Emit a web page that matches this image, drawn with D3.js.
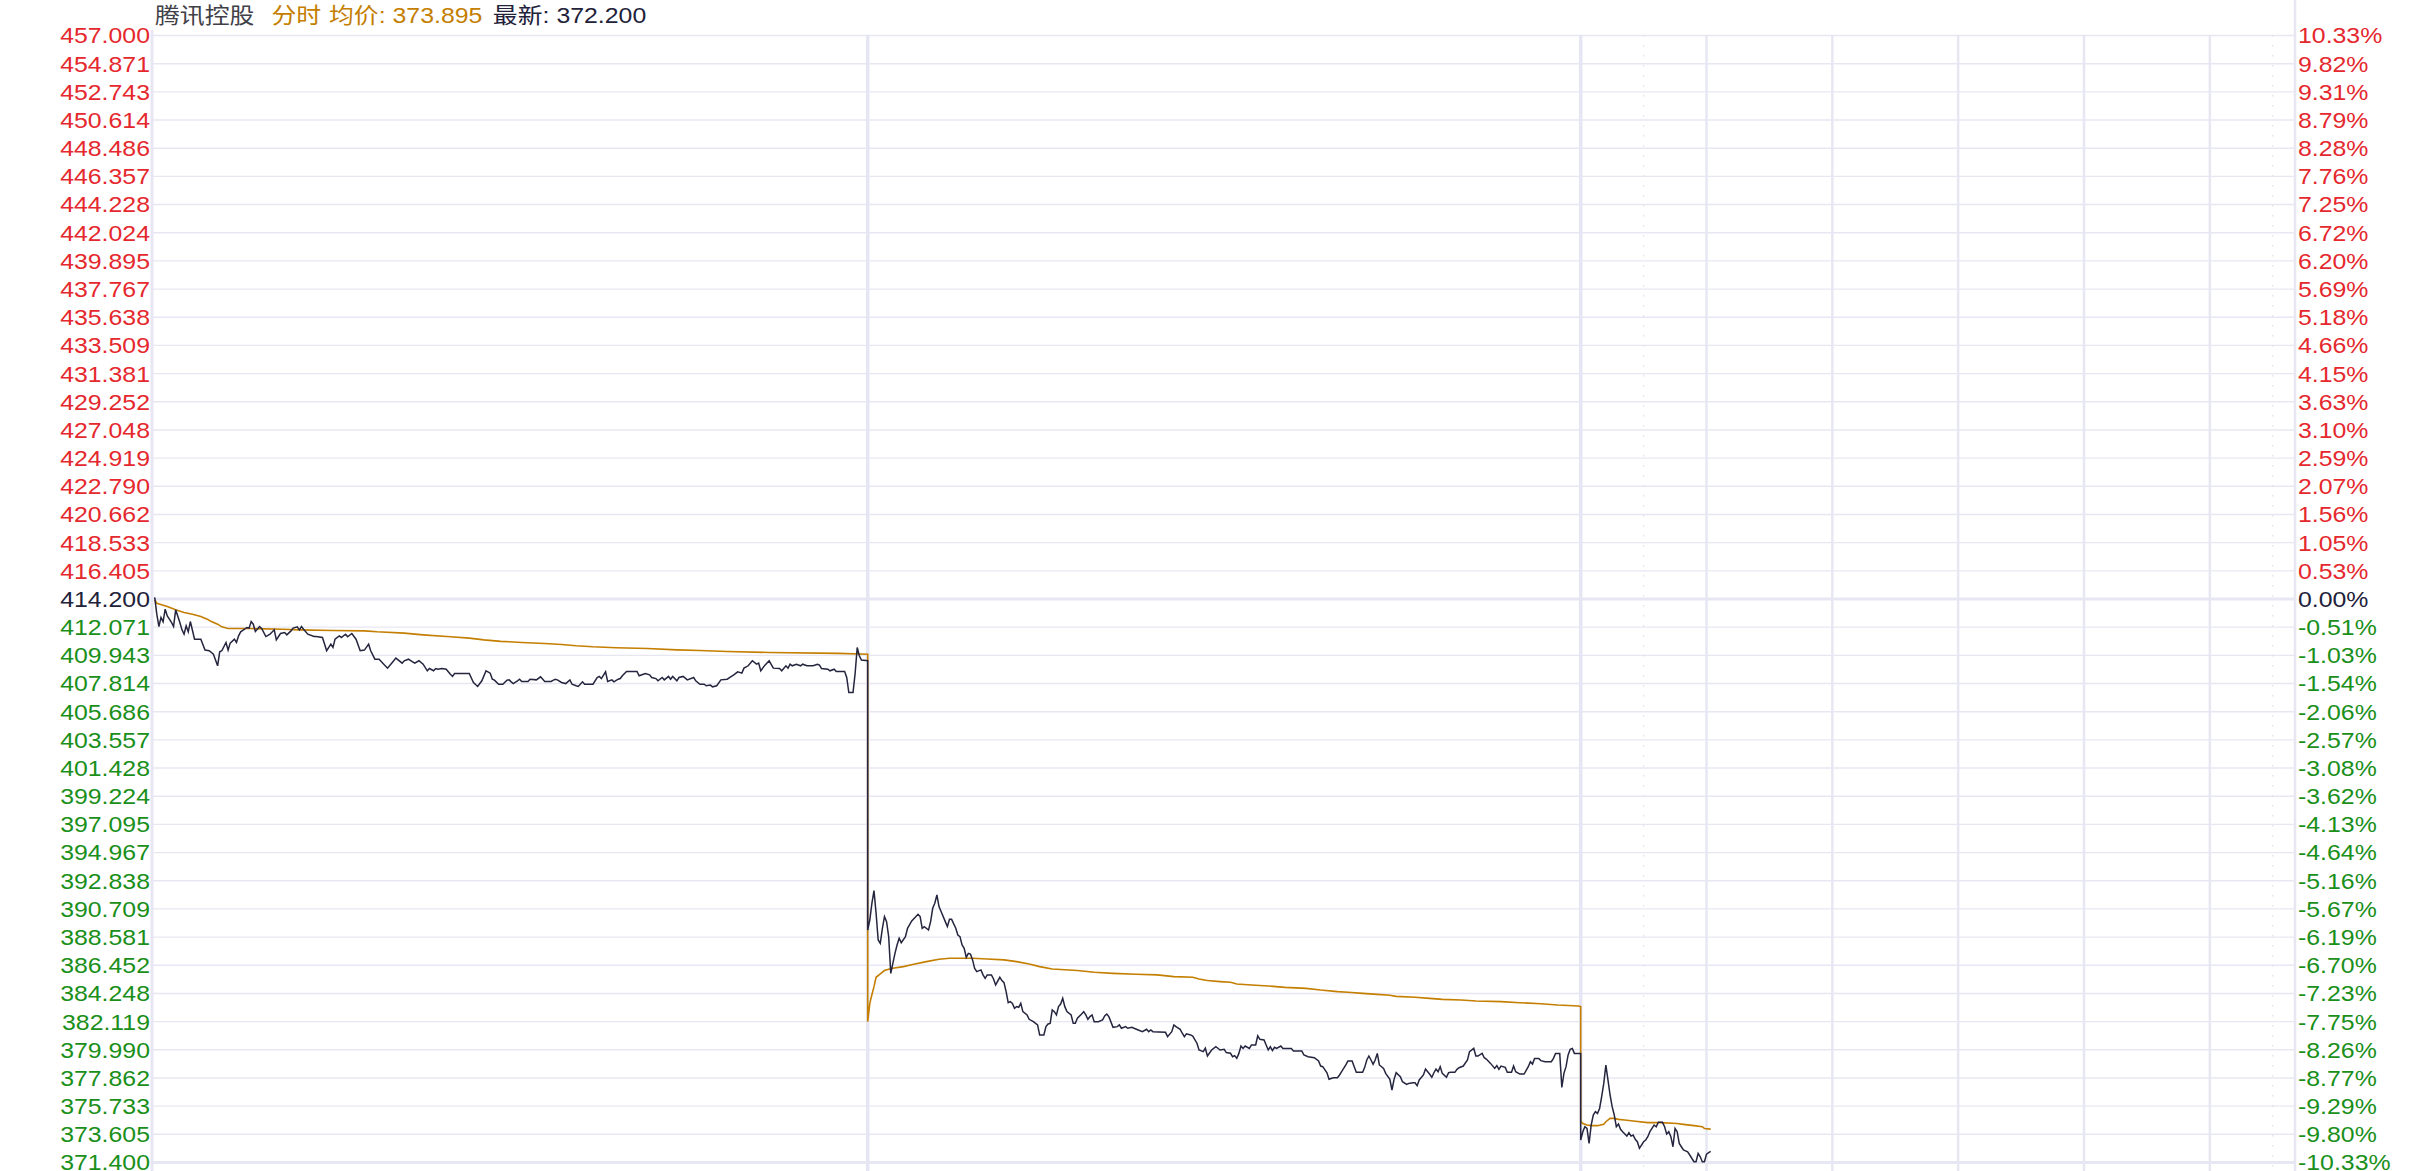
<!DOCTYPE html>
<html lang="zh">
<head>
<meta charset="utf-8">
<title>腾讯控股 分时</title>
<script src="https://d3js.org/d3.v7.min.js"></script>
<style>
  body { margin: 0; background: #fff; }
  svg text { font-family: "Liberation Sans", Arial, "Noto Sans CJK SC", sans-serif; white-space: pre; }
</style>
</head>
<body>
<svg id="chart" width="2425" height="1171"></svg>
<script>
// tick labels, top to bottom
const priceLabels = ["457.000","454.871","452.743","450.614","448.486","446.357","444.228","442.024","439.895","437.767",
  "435.638","433.509","431.381","429.252","427.048","424.919","422.790","420.662","418.533","416.405","414.200",
  "412.071","409.943","407.814","405.686","403.557","401.428","399.224","397.095","394.967","392.838","390.709",
  "388.581","386.452","384.248","382.119","379.990","377.862","375.733","373.605","371.400"];
const pctLabels = ["10.33%","9.82%","9.31%","8.79%","8.28%","7.76%","7.25%","6.72%","6.20%","5.69%","5.18%","4.66%",
  "4.15%","3.63%","3.10%","2.59%","2.07%","1.56%","1.05%","0.53%","0.00%","-0.51%","-1.03%","-1.54%","-2.06%",
  "-2.57%","-3.08%","-3.62%","-4.13%","-4.64%","-5.16%","-5.67%","-6.19%","-6.70%","-7.23%","-7.75%","-8.26%",
  "-8.77%","-9.29%","-9.80%","-10.33%"];

const prevClose = 414.2;
const yMin = 371.4, yMax = 457;
const dayLen = 340;          // minutes per session incl. closing auction

// day 1 : minute index -> price
const day1Min = [0,1,2,3,4,5,6,8,9,10,12,13,14,15,16,17,19,22,24,26,28,30,31,32,34,35,36,38,39,40,41,44,45,46,47,48,50,51,53,55,57,58,60,62,63,65,66,68,69,70,71,73,76,77,80,82,84,85,86,88,89,91,92,94,96,98,100,102,103,105,107,111,113,115,118,119,121,123,124,126,128,130,131,133,134,135,137,139,141,142,143,146,150,152,154,156,158,160,161,162,164,166,168,169,170,171,173,174,175,178,179,182,184,186,189,191,192,194,196,198,199,201,202,204,205,209,211,212,213,215,216,218,219,221,222,223,225,230,231,233,234,236,237,239,240,242,243,245,246,247,249,250,252,254,257,258,260,262,263,265,266,268,270,273,275,276,278,280,281,283,285,287,288,289,291,293,295,298,299,301,302,303,304,306,308,309,311,314,316,317,318,321,322,324,325,329,330,331,333,334,335,336,337,340];
const day1Price = [414.28,413.01,412.07,412.76,412.43,413.39,412.88,412.38,412.07,413.34,412.38,411.82,411.49,412.12,411.67,412.45,411.11,411.11,410.28,410.23,409.97,409.09,410.15,410.23,410.86,410.28,410.81,411.11,410.86,411.36,411.67,412.00,411.95,412.45,412.25,411.69,412.07,411.92,411.31,411.49,411.82,411.06,411.54,411.62,411.44,411.74,411.95,412.05,411.82,412.07,411.87,411.49,411.31,411.31,411.24,410.23,410.73,410.48,411.11,411.36,411.24,411.49,411.29,411.54,411.11,410.23,410.28,410.73,410.23,409.59,409.59,408.91,409.29,409.67,409.29,409.47,409.59,409.39,409.29,409.47,409.21,408.71,408.88,408.71,408.88,408.83,408.88,408.83,408.45,408.28,408.50,408.50,408.50,407.82,407.52,407.95,408.71,408.53,408.07,408.00,407.69,407.69,408.00,408.02,407.87,407.74,407.95,408.07,407.90,407.90,408.07,408.02,408.25,407.90,407.90,408.07,408.02,407.82,407.74,408.02,407.69,407.57,407.52,407.87,407.69,407.69,408.20,408.28,408.12,408.63,407.90,408.02,407.87,408.07,408.12,408.33,408.66,408.66,408.33,408.45,408.50,408.40,408.20,408.12,407.95,408.20,408.02,408.28,408.07,408.28,407.95,408.20,408.28,408.02,408.20,407.95,407.69,407.69,407.57,407.62,407.49,407.57,408.02,408.07,408.28,408.38,408.63,408.53,408.91,409.09,409.47,409.21,409.29,408.71,409.14,409.47,408.91,408.88,408.71,409.09,408.91,409.21,409.09,409.21,409.09,409.21,409.09,409.09,409.21,409.14,408.88,408.83,408.71,408.83,408.66,408.66,408.20,407.06,407.06,408.50,410.48,409.85,409.52,409.47];

// day 2
const day2Min = [0,1,2,3,4,5,6,7,8,9,10,11,12,13,14,15,16,18,19,21,23,24,25,26,27,29,30,31,32,33,34,35,37,38,39,40,42,43,44,45,46,47,48,49,50,51,52,54,55,56,57,59,60,61,63,64,65,66,67,68,69,70,71,72,73,74,76,77,79,81,82,84,85,86,87,88,89,90,91,92,93,94,95,97,98,99,100,102,103,104,105,106,107,108,110,112,113,114,115,117,119,120,121,123,124,126,127,129,131,133,134,135,136,142,143,145,146,147,149,150,151,152,154,155,157,158,160,161,162,164,166,167,168,170,171,173,174,175,176,177,178,179,180,182,183,185,186,187,189,190,191,192,193,194,195,197,198,202,203,207,208,210,213,215,216,217,219,220,222,224,225,226,228,229,231,232,233,236,237,238,239,240,241,242,243,244,246,247,249,250,251,252,254,255,257,258,260,261,262,263,265,266,268,269,270,271,272,273,274,276,277,278,280,281,282,284,286,287,289,290,291,293,294,295,297,299,300,301,302,304,305,307,308,309,311,313,315,316,317,318,320,321,323,326,327,328,330,331,332,333,334,335,336,337,340];
const day2Price = [389.02,389.78,391.05,392.01,390.29,388.26,388.01,389.15,390.04,389.66,388.52,385.73,386.49,387.25,387.88,388.39,388.06,388.52,389.15,389.71,390.04,390.21,390.04,389.15,389.28,389.02,389.66,390.67,391.05,391.68,390.80,390.42,389.66,389.28,389.83,389.83,389.15,388.64,388.52,387.88,387.63,386.95,387.25,387.20,386.75,386.11,385.86,385.99,385.61,385.35,385.61,385.61,385.30,384.85,385.43,385.18,385.02,384.34,383.50,383.58,383.45,383.07,383.20,383.15,383.45,382.82,382.57,382.24,382.06,381.81,381.05,381.05,381.68,381.88,381.93,382.95,382.82,382.57,383.20,383.40,383.83,383.20,382.82,382.57,381.93,381.93,382.32,382.64,382.82,382.57,382.24,382.44,382.57,382.06,382.06,382.19,382.49,382.64,382.44,381.63,381.68,381.81,381.56,381.68,381.56,381.63,381.56,381.43,381.30,381.48,381.30,381.43,381.30,381.25,380.92,381.30,381.81,381.68,381.48,381.18,380.92,381.13,381.05,380.97,380.42,379.91,379.78,380.04,379.45,379.91,380.16,380.04,379.91,379.96,379.71,379.66,379.40,379.48,379.27,379.65,380.21,380.03,380.21,380.03,380.29,380.29,380.99,380.72,380.67,380.29,379.91,380.16,379.86,380.11,380.03,380.21,380.03,380.03,379.83,379.83,379.53,379.40,379.32,379.07,378.69,378.64,378.18,377.68,377.80,377.80,378.01,378.26,378.77,379.07,379.07,378.64,378.21,378.21,378.59,379.15,379.45,379.15,378.82,379.15,379.65,378.77,378.51,378.13,377.68,376.87,377.68,378.18,377.88,377.50,377.30,377.37,377.42,377.42,377.20,377.63,378.01,378.46,378.06,377.83,378.18,378.46,378.26,378.64,378.13,377.83,378.18,378.21,378.21,378.44,378.56,378.69,379.15,379.78,380.03,379.45,379.45,379.65,379.32,379.22,378.89,378.51,378.72,378.44,378.69,378.59,378.21,378.21,378.69,378.26,378.08,378.08,378.64,379.02,378.84,379.27,379.27,379.10,379.02,379.02,379.27,379.65,379.65,377.07,378.13,378.64,379.53,379.96,380.03,379.65,379.65];

// day 3 (in progress)
const day3Min = [0,1,2,3,4,5,6,7,8,9,10,11,12,13,14,15,16,17,18,19,20,22,23,24,25,26,27,28,30,31,32,33,35,36,37,39,40,41,42,43,44,45,46,47,48,49,51,52,54,55,56,57,58,59,60,61,62];
const day3Price = [373.07,373.70,374.08,373.95,372.81,374.21,374.97,375.22,375.09,375.47,376.36,377.37,378.76,377.63,376.49,375.60,374.97,374.08,374.28,373.88,373.70,373.37,373.63,373.37,373.45,373.12,372.94,372.44,372.94,373.07,373.32,373.70,374.21,374.08,374.41,374.41,374.08,373.52,373.70,373.32,372.56,373.95,373.70,372.81,372.56,372.31,372.18,371.93,371.42,371.42,372.06,371.80,371.42,371.42,372.00,372.11,372.20];

// average price line
const avg1Min = [0,1,6,10,14,18,22,25,27,30,32,35,45,61,69,85,100,106,119,128,141,150,157,165,169,175,186,194,201,209,220,235,249,260,273,293,326,340];
const avg1Price = [414.10,413.84,413.59,413.34,413.14,413.01,412.83,412.63,412.45,412.25,412.05,411.92,411.92,411.87,411.82,411.77,411.74,411.67,411.57,411.44,411.29,411.19,411.06,410.94,410.91,410.86,410.78,410.71,410.61,410.53,410.46,410.40,410.30,410.25,410.18,410.10,410.03,409.97];
const avg2Min = [0,1,2,3,4,6,8,10,12,17,22,28,34,39,50,57,65,71,77,82,88,100,108,117,128,138,146,155,158,162,168,173,176,183,191,199,209,216,224,229,236,243,249,252,261,268,274,283,290,302,311,321,329,339,340];
const avg2Price = [382.06,383.45,384.10,384.72,385.43,385.68,385.94,386.04,386.11,386.24,386.42,386.62,386.80,386.87,386.87,386.82,386.75,386.62,386.44,386.24,386.06,385.94,385.81,385.73,385.66,385.61,385.48,385.43,385.30,385.18,385.10,385.05,384.92,384.84,384.77,384.66,384.59,384.46,384.34,384.29,384.21,384.13,384.06,383.98,383.91,383.83,383.75,383.70,383.63,383.58,383.50,383.42,383.32,383.25,383.20];
const avg3Min = [0,1,3,5,8,11,12,14,16,18,21,25,32,38,46,49,54,58,59,62];
const avg3Price = [374.46,374.33,374.21,374.16,374.16,374.26,374.46,374.71,374.71,374.64,374.59,374.51,374.39,374.39,374.33,374.26,374.16,374.08,373.95,373.90];

// vertical grid inside the last session (minutes from its open)
const hourMarks = [60, 120, 180, 240, 300];
const halfHourMarks = [30, 330];

const svg = d3.select("#chart");
const plot = { left: 153, right: 2295, top: 35, bottom: 1162 };
const SX = 1.13;   // the reference font is a bit wide
const red = "#e5282e", green = "#1a8f1a", dark = "#22223a", orange = "#c47e00";

const x = d3.scaleLinear().domain([0, 3 * dayLen]).range([154.7, 2293.7]);
const y = d3.scaleLinear().domain([yMin, yMax]).range([plot.bottom, plot.top]);
const tickVals = d3.range(41).map(i => yMax - i * (yMax - yMin) / 40);

function labelColor(i) {
  if (i < 20) return red;
  if (i === 20) return dark;
  return green;
}

// horizontal gridlines
svg.append("g")
  .attr("class", "grid")
  .attr("transform", `translate(${plot.left},0)`)
  .call(d3.axisRight(y).tickValues(tickVals).tickSize(plot.right - plot.left).tickFormat(""))
  .call(g => g.select(".domain").remove())
  .call(g => g.selectAll(".tick line")
    .attr("stroke", "#e7e7f3")
    .attr("stroke-width", (d, i) => (i === 20 || i === 40 ? 3 : 1.4)));

// vertical lines
const vlines = svg.append("g");
vlines.append("line")
  .attr("x1", plot.left - 1).attr("x2", plot.left - 1)
  .attr("y1", 30).attr("y2", 1171)
  .attr("stroke", "#e7e7f3").attr("stroke-width", 3);
vlines.append("line")
  .attr("x1", plot.right).attr("x2", plot.right)
  .attr("y1", 0).attr("y2", 1171)
  .attr("stroke", "#e7e7f3").attr("stroke-width", 2.5);
[dayLen, 2 * dayLen].forEach(m => {
  vlines.append("line")
    .attr("x1", x(m)).attr("x2", x(m))
    .attr("y1", plot.top).attr("y2", 1171)
    .attr("stroke", "#e5e5f3").attr("stroke-width", 3.5);
});
hourMarks.forEach(m => {
  vlines.append("line")
    .attr("x1", x(2 * dayLen + m)).attr("x2", x(2 * dayLen + m))
    .attr("y1", plot.top).attr("y2", 1171)
    .attr("stroke", "#e7e7f3").attr("stroke-width", 2.5);
});
halfHourMarks.forEach(m => {
  vlines.append("line")
    .attr("x1", x(2 * dayLen + m)).attr("x2", x(2 * dayLen + m))
    .attr("y1", plot.top).attr("y2", 1171)
    .attr("stroke", "#d9d9e3").attr("stroke-width", 1)
    .attr("stroke-dasharray", "1.5,8.5");
});

// price axis (left)
svg.append("g")
  .attr("transform", `translate(${plot.left - 3},0)`)
  .call(d3.axisLeft(y).tickValues(tickVals).tickSize(0).tickPadding(0)
    .tickFormat((d, i) => priceLabels[i]))
  .call(g => g.select(".domain").remove())
  .call(g => g.selectAll(".tick text")
    .attr("font-family", null).attr("font-size", 22)
    .attr("dy", "0.36em")
    .attr("transform", `scale(${SX},1)`)
    .attr("fill", (d, i) => labelColor(i)));

// percent axis (right)
svg.append("g")
  .attr("transform", `translate(${plot.right + 3},0)`)
  .call(d3.axisRight(y).tickValues(tickVals).tickSize(0).tickPadding(0)
    .tickFormat((d, i) => pctLabels[i]))
  .call(g => g.select(".domain").remove())
  .call(g => g.selectAll(".tick text")
    .attr("font-family", null).attr("font-size", 22)
    .attr("dy", "0.36em")
    .attr("transform", `scale(${SX},1)`)
    .attr("fill", (d, i) => labelColor(i)));

// series
function joinDays(mins, prices) {
  let pts = [];
  mins.forEach((m, d) => {
    m.forEach((v, i) => pts.push([d * dayLen + v, prices[d][i]]));
  });
  return pts;
}
const pricePts = joinDays([day1Min, day2Min, day3Min], [day1Price, day2Price, day3Price]);
const avgPts = joinDays([avg1Min, avg2Min, avg3Min], [avg1Price, avg2Price, avg3Price]);

const line = d3.line().x(d => x(d[0])).y(d => y(d[1]));

svg.append("path")
  .datum(avgPts)
  .attr("d", line)
  .attr("fill", "none")
  .attr("stroke", orange)
  .attr("stroke-width", 1.6);

svg.append("path")
  .datum(pricePts)
  .attr("d", line)
  .attr("fill", "none")
  .attr("stroke", "#25253f")
  .attr("stroke-width", 1.5);

// header
const header = svg.append("text")
  .attr("transform", `translate(155,23) scale(${SX},1)`)
  .attr("font-size", 22);
header.append("tspan").attr("x", 0).attr("fill", "#404048").text("腾讯控股");
header.append("tspan").attr("x", 103).attr("fill", orange).text("分时");
header.append("tspan").attr("x", 154).attr("fill", orange).text("均价: 373.895");
header.append("tspan").attr("x", 299).attr("fill", dark).text("最新: 372.200");
</script>
</body>
</html>
